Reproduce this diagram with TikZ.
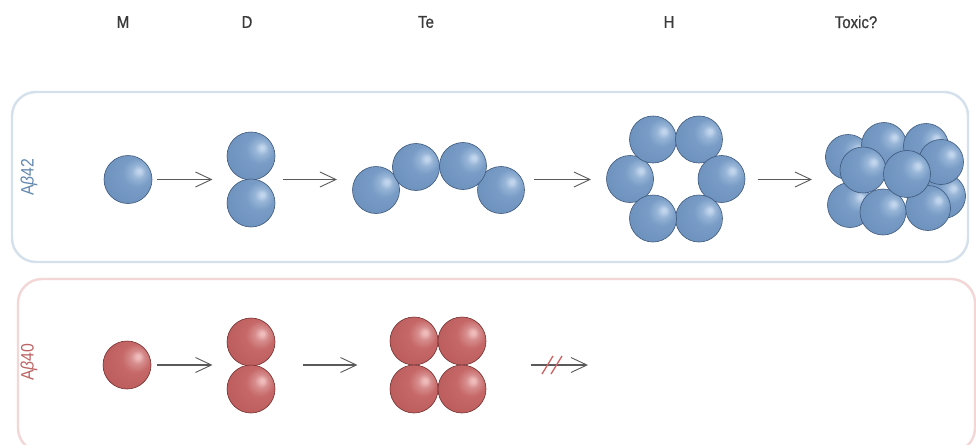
\documentclass[tikz,border=0pt]{standalone}
\usepackage{fontspec}
\setmainfont{Liberation Sans}
\newfontfamily\narrowsans{Liberation Sans}[FakeStretch=0.88]
\newfontfamily\headsans{Liberation Sans}[FakeStretch=0.88,FakeBold=0.8]
\usetikzlibrary{arrows.meta,fit}

% sphere palettes
\definecolor{bHi}{RGB}{192,212,236}
\definecolor{bSoft}{RGB}{150,180,214}
\definecolor{bMid}{RGB}{120,156,198}
\definecolor{bBase}{RGB}{108,145,188}
\definecolor{bDark}{RGB}{86,118,158}
\definecolor{bEdge}{RGB}{60,86,122}
\definecolor{bLine}{RGB}{62,88,124}
\definecolor{rHi}{RGB}{238,186,186}
\definecolor{rSoft}{RGB}{214,140,140}
\definecolor{rMid}{RGB}{198,104,104}
\definecolor{rBase}{RGB}{188,92,92}
\definecolor{rDark}{RGB}{156,68,68}
\definecolor{rEdge}{RGB}{112,44,44}
\definecolor{rLine}{RGB}{118,48,48}
% frames, labels, arrows
\definecolor{frameB}{RGB}{212,224,236}
\definecolor{frameR}{RGB}{243,214,214}
\definecolor{labB}{RGB}{98,136,175}
\definecolor{labR}{RGB}{190,100,100}
\definecolor{headc}{RGB}{58,58,58}
\definecolor{arrc}{RGB}{90,90,90}
\definecolor{slashc}{RGB}{208,95,95}

\pgfdeclareradialshading{bsph}{\pgfpoint{12bp}{9bp}}{%
  color(0bp)=(bHi); color(2bp)=(bHi); color(7bp)=(bSoft); color(15bp)=(bMid);
  color(34bp)=(bBase); color(54bp)=(bDark); color(68bp)=(bEdge)}
\pgfdeclareradialshading{rsph}{\pgfpoint{12bp}{9bp}}{%
  color(0bp)=(rHi); color(2bp)=(rHi); color(7bp)=(rSoft); color(15bp)=(rMid);
  color(34bp)=(rBase); color(54bp)=(rDark); color(68bp)=(rEdge)}

\tikzset{
  ballB/.style={circle, inner sep=0pt, minimum size=#1, shade, shading=bsph,
                draw=bLine, line width=0.6pt},
  ballB/.default=48pt,
  ballR/.style={circle, inner sep=0pt, minimum size=#1, shade, shading=rsph,
                draw=rLine, line width=0.6pt},
  ballR/.default=48pt,
  group/.style={inner sep=0pt, draw=none},
  frame/.style={rounded corners=24pt, line width=2.4pt},
  header/.style={text=headc, font=\fontsize{17}{17}\headsans},
  rowlabel/.style={rotate=90, font=\fontsize{18}{18}\narrowsans},
  arr/.style={draw=arrc, line width=1.1pt,
              -{Straight Barb[length=16pt,width=15pt,line width=0.9pt]}},
  slash/.style={draw=slashc, line width=1.3pt}
}

\begin{document}
\begin{tikzpicture}[x=1pt,y=-1pt]
\useasboundingbox (0,0) rectangle (976,444);
\fill[white] (0,0) rectangle (976,444);

% frames of the two rows
\begin{scope}
  \clip (0,0) rectangle (976,444);
  \draw[frame, draw=frameB] (12,92) rectangle (968,262);
  \draw[frame, draw=frameR] (18,279) rectangle (975,452);
\end{scope}

% column headers
\node[header] (hM)  at (123,22) {M};
\node[header] (hD)  at (247,22) {D};
\node[header] (hTe) at (426,22) {Te};
\node[header] (hH)  at (669,22) {H};
\node[header] (hT)  at (856,22) {Toxic?};

% row labels
\node[rowlabel, text=labB] (lab42) at (29,177) {A\textit{β}42};
\node[rowlabel, text=labR] (lab40) at (29,362) {A\textit{β}40};

% ---- A-beta 42 row ----
\node[ballB] (m42) at (128,179.5) {};
\node[ballB] (d42a) at (251,156) {};
\node[ballB] (d42b) at (251,203) {};
\node[group, fit=(d42a)(d42b)] (D42) {};

\node[ballB=47pt] (t42a) at (376,190) {};
\node[ballB=47pt] (t42d) at (501,190) {};
\node[ballB=47pt] (t42b) at (416,167) {};
\node[ballB=47pt] (t42c) at (463,166) {};
\node[group, fit=(t42a)(t42b)(t42c)(t42d)] (Te42) {};

\node[ballB=47pt] (h42a) at (630,179) {};
\node[ballB=47pt] (h42b) at (653,139.5) {};
\node[ballB=47pt] (h42c) at (699,139.5) {};
\node[ballB=47pt] (h42d) at (721.5,179) {};
\node[ballB=47pt] (h42e) at (699,218.5) {};
\node[ballB=47pt] (h42f) at (653,218.5) {};
\node[group, fit=(h42a)(h42b)(h42c)(h42d)(h42e)(h42f)] (H42) {};

% toxic cluster, back to front
\node[ballB=45pt] (x01) at (943,196) {};
\node[ballB=45pt] (x02) at (848,157) {};
\node[ballB=45pt] (x03) at (884,145) {};
\node[ballB=45pt] (x04) at (926,146) {};
\node[ballB=45pt] (x05) at (941,162) {};
\node[ballB=45pt] (x06) at (850,205) {};
\node[ballB=45pt] (x07) at (928,208) {};
\node[ballB=46pt] (x08) at (883,212) {};
\node[ballB=46pt] (x09) at (863,170) {};
\node[ballB=47pt] (x10) at (907,174) {};
\node[group, fit=(x01)(x02)(x03)(x04)(x05)(x06)(x07)(x08)(x09)(x10)] (X42) {};

\draw[arr, shorten <=5pt, shorten >=14pt] (m42.east) -- (m42.east -| D42.west);
\draw[arr, shorten <=7pt, shorten >=15pt] (m42.east -| D42.east) -- (m42.east -| Te42.west);
\draw[arr, shorten <=9pt, shorten >=15pt] (m42.east -| Te42.east) -- (m42.east -| H42.west);
\draw[arr, shorten <=12pt, shorten >=13pt] (m42.east -| H42.east) -- (m42.east -| X42.west);

% ---- A-beta 40 row ----
\node[ballR] (m40) at (127,365) {};
\node[ballR] (d40a) at (251,342) {};
\node[ballR] (d40b) at (251,389) {};
\node[group, fit=(d40a)(d40b)] (D40) {};

\node[ballR] (t40a) at (414,341) {};
\node[ballR] (t40b) at (462,341) {};
\node[ballR] (t40c) at (414,389) {};
\node[ballR] (t40d) at (462,389) {};
\node[group, fit=(t40a)(t40b)(t40c)(t40d)] (Te40) {};

\coordinate (stop40) at (588,365);

\draw[arr, shorten <=6pt, shorten >=14pt] (m40.east) -- (m40.east -| D40.west);
\draw[arr, shorten <=27pt, shorten >=32pt] (m40.east -| D40.east) -- (m40.east -| Te40.west);
\draw[arr, shorten <=44pt] (m40.east -| Te40.east) -- (stop40);

% blocked step
\draw[slash] (542,374) -- (553,356);
\draw[slash] (551,374) -- (562,356);
\end{tikzpicture}
\end{document}
